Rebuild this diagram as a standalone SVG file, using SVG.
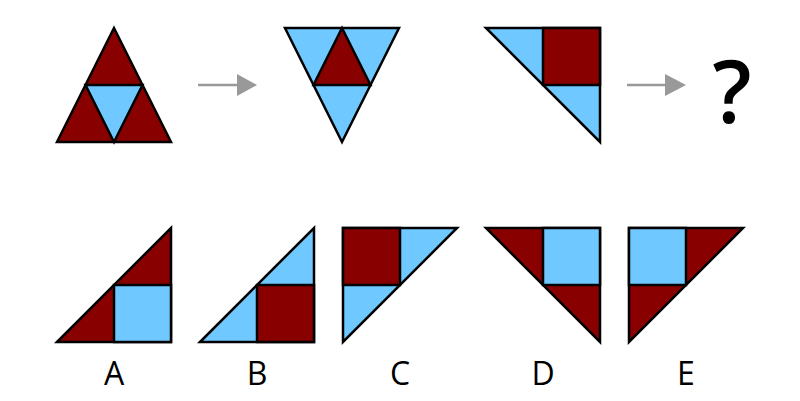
<svg xmlns="http://www.w3.org/2000/svg" width="800" height="401" viewBox="0 0 800 401">
<style>
.r{fill:#880000;stroke:#000;stroke-width:2.5;stroke-linejoin:miter}
.b{fill:#6fc8ff;stroke:#000;stroke-width:2.5;stroke-linejoin:miter}
.lbl{font-family:"Open Sans","Noto Sans",sans-serif;font-size:32px;fill:#000;text-anchor:middle}
.arr{stroke:#999;stroke-width:2.5;fill:none}
.ah{fill:#999}
</style>
<rect width="800" height="401" fill="#fff"/>
<g id="fig1">
<polygon class="r" points="114,28 171,142 57,142"/>
<polygon class="b" points="85.5,85 142.5,85 114,142"/>
</g>
<g id="fig2">
<polygon class="b" points="285,28 399,28 342,142"/>
<polygon class="r" points="342,28 370.5,85 313.5,85"/>
</g>
<g id="fig3">
<polygon class="b" points="486,28 600,28 600,142"/>
<rect class="r" x="543" y="28" width="57" height="57"/>
</g>
<g id="question">
<text x="732" y="123" font-family="Open Sans, Noto Sans, sans-serif" font-size="86" font-weight="600" text-anchor="middle">?</text>
</g>
<g id="connectors">
<line class="arr" x1="198" y1="85" x2="238" y2="85"/>
<polygon class="ah" points="237,74 257,85 237,96"/>
<line class="arr" x1="627" y1="85" x2="666" y2="85"/>
<polygon class="ah" points="665,74 686,85 665,96"/>
</g>
<g id="optA">
<polygon class="r" points="57,342 171,228 171,342"/>
<rect class="b" x="114" y="285" width="57" height="57"/>
<text class="lbl" x="114" y="385">A</text>
</g>
<g id="optB">
<polygon class="b" points="200,342 314,228 314,342"/>
<rect class="r" x="257" y="285" width="57" height="57"/>
<text class="lbl" x="257" y="385">B</text>
</g>
<g id="optC">
<polygon class="b" points="343,228 457,228 343,342"/>
<rect class="r" x="343" y="228" width="57" height="57"/>
<text class="lbl" x="400" y="385">C</text>
</g>
<g id="optD">
<polygon class="r" points="486,228 600,228 600,342"/>
<rect class="b" x="543" y="228" width="57" height="57"/>
<text class="lbl" x="543" y="385">D</text>
</g>
<g id="optE">
<polygon class="r" points="629,228 743,228 629,342"/>
<rect class="b" x="629" y="228" width="57" height="57"/>
<text class="lbl" x="686" y="385">E</text>
</g>
</svg>
